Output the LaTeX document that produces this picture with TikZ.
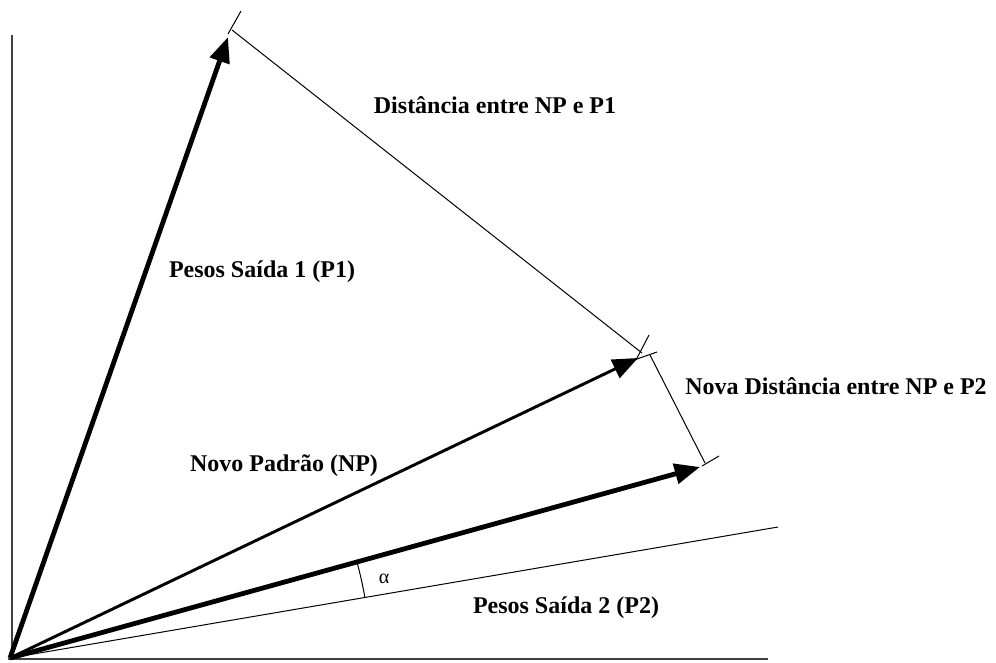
\documentclass[tikz,border=0pt]{standalone}
\usepackage{fontspec}
\setmainfont{Liberation Serif}
\usetikzlibrary{arrows.meta}

\begin{document}
\begin{tikzpicture}[x=0.75pt, y=-0.75pt, >={Triangle[length=19pt,width=15pt]},
    font=\bfseries\fontsize{18}{20}\selectfont]
  \tikzset{
    axis/.style={
      draw=black!75,
      line width=1.5pt},
    vec/.style={
      ->,
      line width=3.6pt},
    midvec/.style={
      ->,
      line width=2.2pt},
    dim/.style={
      line width=0.75pt},
    lbl/.style={
      inner sep=0pt}}

  \useasboundingbox (0,0) rectangle (996,662);

  % axes
  \coordinate (ytop) at (12,35);
  \coordinate (ybot) at (12,659);
  \coordinate (xleft) at (8,659);
  \coordinate (xright) at (768,659);
  \draw[axis] (ytop) -- (ybot);
  \draw[axis] (xleft) -- (xright);

  % vectors
  \coordinate (O) at (10,658);
  \coordinate (P1) at (228,37);
  \coordinate (NP) at (638,358);
  \coordinate (P2) at (700,467);
  \coordinate (P2end) at (778,527);

  \draw[dim] (O) -- (P2end);
  \draw[vec] (O) -- (P2);
  \draw[midvec] (O) -- (NP);
  \draw[vec] (O) -- (P1);

  % distance lines and ticks
  \coordinate (t1a) at (228,34);
  \coordinate (t1b) at (241,11);
  \coordinate (d1a) at (232,30);
  \coordinate (d1b) at (642,353);
  \coordinate (t2a) at (649,335);
  \coordinate (t2b) at (636,360);
  \coordinate (t3a) at (637,359);
  \coordinate (t3b) at (657,352);
  \coordinate (d2a) at (650,355);
  \coordinate (d2b) at (705,463);
  \coordinate (t4a) at (702,466);
  \coordinate (t4b) at (719,456);

  \draw[dim] (t1a) -- (t1b);
  \draw[dim] (d1a) -- (d1b);
  \draw[dim] (t2a) -- (t2b);
  \draw[dim] (t3a) -- (t3b);
  \draw[dim] (d2a) -- (d2b);
  \draw[dim] (t4a) -- (t4b);

  % angle
  \coordinate (arcA) at ([shift={(O)}]-15.47:360);
  \draw[dim] (arcA) arc[start angle=-15.47, end angle=-9.68, radius=360];

  % labels
  \node[lbl] (ld1) at (495,105) {Distância entre NP e P1};
  \node[lbl] (lp1) at (262,272) {Pesos Saída 1 (P1)};
  \node[lbl] (lnp) at (284,466) {Novo Padrão (NP)};
  \node[lbl] (ld2) at (836,386) {Nova Distância entre NP e P2};
  \node[lbl] (lp2) at (566,608) {Pesos Saída 2 (P2)};
  \node[lbl, font=\fontsize{15}{16}\selectfont] (lal) at (384,579) {α};

\end{tikzpicture}
\end{document}
